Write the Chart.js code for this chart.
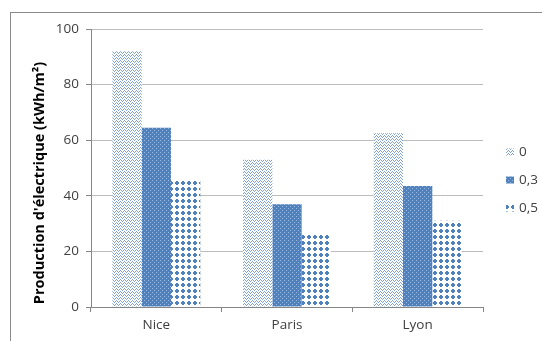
<!DOCTYPE html>
<html>
<head>
<meta charset="utf-8">
<script src="https://cdn.jsdelivr.net/npm/chart.js@4"></script>
<style>
  html, body { margin: 0; padding: 0; background: #fff; }
  #wrap { position: relative; width: 542px; height: 341px; overflow: hidden; }
  #frame { position: absolute; left: 10px; top: 12px; width: 600px; height: 400px;
           border-left: 1px solid #8a8a8a; border-top: 1px solid #8a8a8a; }
  canvas { position: absolute; left: 0; top: 0; }
</style>
</head>
<body>
<div id="wrap">
  <div id="frame"></div>
  <canvas id="c" width="542" height="341"></canvas>
</div>
<script>
// Cities and the three ratios compared
const cities = ['Nice', 'Paris', 'Lyon'];
const seriesLabels = ['0', '0,3', '0,5'];
// Electricity produced, kWh/m²
const valuesRatio0 = [92, 53, 62.5];
const valuesRatio03 = [64.5, 37, 43.5];
const valuesRatio05 = [46, 26.5, 31];
const yTicks = [0, 20, 40, 60, 80, 100];
const yTitle = "Production d'électrique (kWh/m²)";

const BLUE = '#4F81BD';

// Small tiles used as hatch fills
function tile(w, h, bg, fg, pts) {
  const t = document.createElement('canvas');
  t.width = w; t.height = h;
  const g = t.getContext('2d');
  g.fillStyle = bg; g.fillRect(0, 0, w, h);
  g.fillStyle = fg;
  pts.forEach(p => g.fillRect(p[0], p[1], 1, 1));
  return document.getElementById('c').getContext('2d').createPattern(t, 'repeat');
}

// wave: thin zigzag rows
const wave = tile(4, 3, '#ffffff', '#7FA1D3', [[0,0],[1,1],[3,1],[2,2]]);
// dense: solid blue with light specks
const dense = tile(4, 4, BLUE, '#9DB8DE', [[0,0],[2,2]]);
// dots: rounded blue blocks on white
const dots = tile(6, 6, '#ffffff', BLUE, [
  [2,1],[3,1],
  [1,2],[2,2],[3,2],[4,2],
  [1,3],[2,3],[3,3],[4,3],
  [2,4],[3,4]
]);

const FONT = "'Open Sans', 'Liberation Sans', sans-serif";
const AXIS = '#868686';

const sideTitle = {
  id: 'sideTitle',
  afterDraw(chart) {
    const ctx = chart.ctx;
    ctx.save();
    ctx.translate(40, 183);
    ctx.rotate(-Math.PI / 2);
    ctx.font = 'bold 14.5px ' + FONT;
    ctx.fillStyle = '#000';
    ctx.textAlign = 'center';
    ctx.textBaseline = 'middle';
    ctx.fillText(yTitle, 0, 0);
    ctx.restore();
  }
};

const sideLegend = {
  id: 'sideLegend',
  afterDraw(chart) {
    const ctx = chart.ctx;
    ctx.save();
    ctx.font = '13.5px ' + FONT;
    ctx.textBaseline = 'middle';
    ctx.textAlign = 'left';
    chart.data.datasets.forEach((ds, i) => {
      const yc = 152 + i * 28;
      ctx.fillStyle = ds.backgroundColor;
      ctx.fillRect(506, yc - 3.5, 8, 7);
      ctx.fillStyle = '#404040';
      ctx.fillText(ds.label, 519, yc);
    });
    ctx.restore();
  }
};

new Chart(document.getElementById('c'), {
  type: 'bar',
  data: {
    labels: cities,
    datasets: [
      { label: seriesLabels[0], data: valuesRatio0, backgroundColor: wave },
      { label: seriesLabels[1], data: valuesRatio03, backgroundColor: dense },
      { label: seriesLabels[2], data: valuesRatio05, backgroundColor: dots }
    ]
  },
  options: {
    responsive: false,
    animation: false,
    layout: { padding: { left: 0, top: 29, right: 59, bottom: 0 } },
    datasets: { bar: { categoryPercentage: 0.673, barPercentage: 1, borderWidth: 0 } },
    plugins: { legend: { display: false }, tooltip: { enabled: false } },
    scales: {
      x: {
        afterFit(s) { s.height = 34; },
        grid: { offset: true, drawOnChartArea: false, tickLength: 5, color: AXIS },
        border: { color: AXIS },
        ticks: { color: '#404040', font: { family: FONT, size: 13.5 }, padding: 5 }
      },
      y: {
        min: 0, max: 100,
        afterFit(s) { s.width = 91; },
        afterBuildTicks(s) { s.ticks = yTicks.map(v => ({ value: v })); },
        grid: { color: '#BDBDBD', tickColor: AXIS, tickLength: 5 },
        border: { color: AXIS },
        ticks: { color: '#404040', font: { family: FONT, size: 13.5 }, padding: 7 }
      }
    }
  },
  plugins: [sideTitle, sideLegend]
});
</script>
</body>
</html>
